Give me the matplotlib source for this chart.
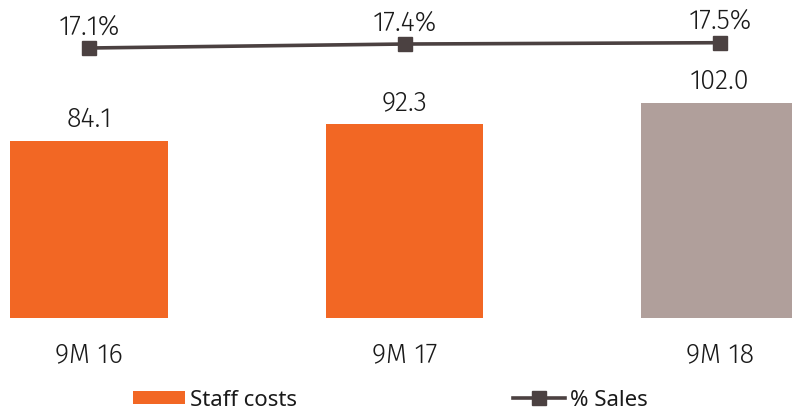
import matplotlib
matplotlib.use("Agg")
import matplotlib.pyplot as plt
from matplotlib.patches import Patch
from matplotlib.lines import Line2D

# ---------------------------------------------------------------------------
# Data
# ---------------------------------------------------------------------------
periods = ["9M 16", "9M 17", "9M 18"]
staff_costs = [84.1, 92.3, 102.0]
pct_sales = [17.1, 17.4, 17.5]
staff_labels = ["84.1", "92.3", "102.0"]
pct_labels = ["17.1%", "17.4%", "17.5%"]

ORANGE = "#F26724"
GREY = "#B09F9B"
LINE = "#4B4141"
TEXT = "#1A1A1A"

VAL_FONT = ["Fira Sans", "Barlow Semi Condensed", "DejaVu Sans"]
LEG_FONT = ["Noto Sans", "DejaVu Sans"]
plt.rcParams["font.family"] = VAL_FONT

fig = plt.figure(figsize=(7.92, 4.12), dpi=100)
ax = fig.add_axes([0, 1 - 318 / 412, 1, 318 / 412])

x = list(range(len(periods)))
colors = [ORANGE, ORANGE, GREY]
ax.bar(x, staff_costs, width=0.5, color=colors, edgecolor="none")
ax.set_xlim(-89 / 315.5, (792 - 89) / 315.5)
ax.set_ylim(0, 318 / 2.105)
ax.axis("off")

for xi, v, lab in zip(x, staff_costs, staff_labels):
    ax.annotate(lab, (xi, v), xytext=(0, 10), textcoords="offset points",
                ha="center", va="baseline", fontsize=19.5, fontweight=300, color=TEXT)

for xi, lab in zip(x, periods):
    ax.annotate(lab, (xi, 0), xytext=(0, -31.5), textcoords="offset points",
                ha="center", va="baseline", fontsize=19.5, fontweight=300, color=TEXT)

ax2 = ax.twinx()
ax2.set_ylim(17.1 - 270 / 13.25, 17.1 + 48 / 13.25)
ax2.plot(x, pct_sales, color=LINE, lw=2.6, marker="s", markersize=9.5,
         markerfacecolor=LINE, markeredgecolor=LINE)
ax2.axis("off")

for xi, v, lab in zip(x, pct_sales, pct_labels):
    ax2.annotate(lab, (xi, v), xytext=(0, 9.8), textcoords="offset points",
                 ha="center", va="baseline", fontsize=19.5, fontweight=300, color=TEXT)

handles = [
    Patch(facecolor=ORANGE, edgecolor="none"),
    Line2D([0], [0], color=LINE, lw=2.6, marker="s", markersize=9.5),
]
fig.legend(handles, ["Staff costs", "% Sales"], loc="center",
           bbox_to_anchor=(0.493, 1 - 400 / 412), ncol=2, frameon=False,
           handlelength=2.35, handleheight=0.5,
           handletextpad=0.23, columnspacing=9.7,
           prop={"family": LEG_FONT, "size": 16}, labelcolor=TEXT)

fig.savefig("out.png", dpi=100)
